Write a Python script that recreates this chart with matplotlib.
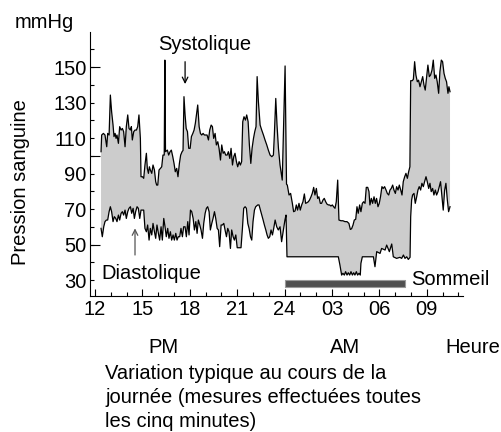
"""
Blood pressure over one day: systolic and diastolic readings every five
minutes, with the sleeping period marked under the curves.
"""

import matplotlib
matplotlib.use("Agg")
import matplotlib.pyplot as plt
from matplotlib.ticker import FixedLocator, MultipleLocator

# ── readings: (hour, mmHg); hours past 24 belong to the next morning ──
SYSTOLIC = [
    (12.38, 102.3), (12.42, 111.7), (12.53, 112.6), (12.63, 111.7), (12.74, 105.1),
    (12.80, 112.6), (12.89, 111.7), (12.97, 134.2), (13.05, 124.8), (13.14, 117.3),
    (13.20, 110.8), (13.27, 112.6), (13.33, 109.8), (13.39, 111.7), (13.48, 107.0),
    (13.56, 116.4), (13.65, 114.5), (13.73, 115.4), (13.81, 113.6), (13.90, 105.1),
    (13.98, 116.4), (14.07, 123.0), (14.15, 115.4), (14.24, 114.5), (14.30, 116.4),
    (14.36, 108.9), (14.45, 113.6), (14.53, 114.5), (14.62, 114.5), (14.70, 116.4),
    (14.78, 123.0), (14.87, 109.8), (14.91, 88.2), (15.00, 88.2), (15.08, 87.3),
    (15.16, 94.8), (15.25, 101.4), (15.31, 92.9), (15.38, 90.1), (15.44, 93.8),
    (15.50, 92.0), (15.59, 90.1), (15.67, 94.8), (15.76, 92.0), (15.84, 85.4),
    (15.90, 83.5), (15.97, 83.5), (16.05, 92.0), (16.14, 92.9), (16.22, 93.8),
    (16.30, 100.4), (16.38, 100.4), (16.42, 153.9), (16.46, 102.3), (16.58, 103.2),
    (16.66, 100.4), (16.75, 102.3), (16.83, 103.2), (16.92, 99.5), (17.00, 95.7),
    (17.08, 91.0), (17.17, 92.9), (17.25, 88.2), (17.34, 95.7), (17.42, 100.4),
    (17.51, 102.3), (17.57, 103.0), (17.63, 133.3), (17.70, 123.0), (17.77, 115.4),
    (17.85, 113.6), (17.93, 104.2), (18.02, 104.2), (18.10, 110.8), (18.19, 112.6),
    (18.27, 114.5), (18.35, 118.3), (18.50, 128.6), (18.59, 116.4), (18.67, 112.6),
    (18.75, 111.7), (18.84, 112.6), (18.92, 111.7), (19.00, 111.7), (19.09, 111.7),
    (19.18, 108.9), (19.26, 114.5), (19.35, 117.3), (19.43, 116.4), (19.51, 109.8),
    (19.60, 112.6), (19.68, 106.1), (19.77, 107.9), (19.85, 104.2), (19.94, 97.6),
    (20.02, 106.1), (20.11, 101.4), (20.19, 102.3), (20.27, 100.4), (20.36, 100.4),
    (20.44, 102.3), (20.53, 98.5), (20.61, 104.2), (20.70, 94.8), (20.78, 99.5),
    (20.86, 101.4), (20.95, 96.7), (21.03, 93.8), (21.12, 96.7), (21.20, 94.8),
    (21.28, 96.7), (21.35, 119.2), (21.43, 122.0), (21.52, 120.1), (21.60, 123.0),
    (21.69, 119.2), (21.77, 106.1), (21.86, 95.7), (21.94, 104.2), (22.03, 109.8),
    (22.11, 113.6), (22.19, 116.4), (22.26, 144.6), (22.34, 130.5), (22.45, 117.3),
    (22.55, 114.5), (22.66, 111.7), (22.76, 108.9), (22.87, 106.1), (22.97, 103.2),
    (23.08, 100.4), (23.19, 99.5), (23.29, 100.4), (23.35, 111.7), (23.44, 132.3),
    (23.52, 117.3), (23.61, 104.2), (23.71, 94.8), (23.85, 86.3), (24.03, 150.6),
    (24.12, 84.0), (24.17, 83.5), (24.28, 77.9), (24.38, 78.8), (24.49, 73.2),
    (24.57, 68.5), (24.66, 68.9), (24.74, 72.3), (24.82, 69.4), (24.91, 73.2),
    (24.99, 69.4), (25.08, 72.3), (25.16, 74.1), (25.25, 78.5), (25.33, 73.2),
    (25.42, 73.6), (25.50, 74.1), (25.58, 75.1), (25.67, 76.9), (25.75, 78.8),
    (25.84, 82.2), (25.92, 77.9), (26.01, 81.6), (26.09, 76.0), (26.17, 76.9),
    (26.26, 73.2), (26.34, 73.2), (26.43, 75.1), (26.51, 76.0), (26.60, 74.1),
    (26.68, 72.8), (26.77, 72.3), (26.85, 72.3), (26.93, 71.7), (27.02, 72.3),
    (27.10, 71.3), (27.19, 70.4), (27.27, 74.1), (27.36, 86.3), (27.44, 63.8),
    (27.57, 63.4), (27.69, 63.4), (27.82, 62.9), (27.95, 62.9), (28.07, 61.9),
    (28.16, 58.5), (28.24, 58.9), (28.33, 61.0), (28.41, 63.8), (28.50, 64.2),
    (28.58, 71.3), (28.66, 67.6), (28.75, 72.3), (28.83, 68.5), (28.92, 73.2),
    (29.00, 74.1), (29.09, 73.2), (29.17, 82.2), (29.26, 82.2), (29.34, 79.8),
    (29.40, 72.3), (29.49, 76.0), (29.57, 73.2), (29.66, 76.9), (29.74, 73.2),
    (29.82, 76.0), (29.91, 71.3), (29.99, 73.2), (30.07, 76.9), (30.16, 82.6),
    (30.24, 81.6), (30.33, 82.6), (30.42, 80.7), (30.50, 78.8), (30.59, 77.9),
    (30.67, 80.7), (30.75, 81.6), (30.84, 83.5), (30.92, 80.7), (31.01, 78.8),
    (31.09, 82.6), (31.18, 80.7), (31.26, 83.5), (31.35, 80.7), (31.43, 77.9),
    (31.51, 85.4), (31.60, 88.2), (31.68, 90.1), (31.77, 87.3), (31.85, 91.0),
    (31.93, 93.8), (31.98, 142.3), (32.08, 142.3), (32.15, 143.1), (32.23, 153.0),
    (32.31, 145.5), (32.40, 141.7), (32.48, 142.6), (32.57, 138.9), (32.65, 141.7),
    (32.74, 144.6), (32.82, 139.9), (32.90, 137.0), (32.99, 144.6), (33.07, 151.1),
    (33.16, 144.6), (33.24, 145.5), (33.33, 148.3), (33.41, 153.9), (33.50, 143.6),
    (33.58, 145.5), (33.66, 141.7), (33.75, 135.2), (33.83, 147.4), (33.92, 153.9),
    (34.00, 153.0), (34.09, 146.4), (34.17, 143.6), (34.25, 141.7), (34.34, 135.2),
    (34.40, 138.9), (34.47, 136.1),
]

DIASTOLIC = [
    (12.38, 59.1), (12.46, 54.4), (12.55, 60.0), (12.63, 62.9), (12.72, 63.8),
    (12.80, 63.8), (12.89, 68.5), (12.97, 71.3), (13.05, 68.5), (13.14, 62.9),
    (13.22, 65.7), (13.31, 64.7), (13.39, 62.9), (13.48, 66.6), (13.56, 63.8),
    (13.65, 67.6), (13.73, 68.5), (13.81, 66.6), (13.90, 69.4), (13.98, 64.7),
    (14.07, 68.5), (14.15, 70.4), (14.24, 71.3), (14.32, 67.6), (14.41, 70.4),
    (14.49, 64.7), (14.57, 68.5), (14.66, 71.3), (14.74, 70.4), (14.83, 64.7),
    (14.91, 69.4), (15.00, 69.4), (15.08, 69.4), (15.16, 59.1), (15.25, 57.2),
    (15.33, 61.0), (15.42, 52.5), (15.50, 59.1), (15.59, 55.4), (15.67, 61.9),
    (15.76, 57.2), (15.84, 53.5), (15.92, 61.0), (16.01, 56.3), (16.09, 52.5),
    (16.18, 60.0), (16.26, 52.5), (16.35, 64.7), (16.43, 60.0), (16.51, 54.4),
    (16.60, 59.1), (16.68, 53.5), (16.77, 57.2), (16.85, 52.5), (16.94, 55.4),
    (17.02, 52.5), (17.11, 56.3), (17.19, 52.5), (17.27, 54.4), (17.36, 54.4),
    (17.44, 59.1), (17.53, 54.4), (17.61, 60.0), (17.70, 60.0), (17.78, 54.4),
    (17.87, 62.9), (17.95, 55.4), (18.04, 69.4), (18.12, 68.5), (18.21, 64.7),
    (18.29, 58.2), (18.38, 62.9), (18.46, 56.3), (18.54, 63.8), (18.63, 61.0),
    (18.71, 58.2), (18.80, 53.5), (18.88, 61.9), (18.97, 67.6), (19.05, 70.4),
    (19.13, 71.3), (19.22, 68.5), (19.30, 58.2), (19.39, 61.9), (19.47, 64.7),
    (19.56, 68.5), (19.64, 64.7), (19.73, 59.1), (19.81, 58.2), (19.89, 48.8),
    (19.98, 61.0), (20.06, 61.0), (20.15, 61.9), (20.23, 58.2), (20.32, 54.4),
    (20.40, 59.1), (20.48, 57.2), (20.57, 47.8), (20.65, 58.2), (20.74, 54.4),
    (20.82, 52.5), (20.91, 55.4), (21.00, 48.2), (21.24, 48.2), (21.33, 59.1),
    (21.41, 70.4), (21.50, 71.3), (21.58, 70.4), (21.67, 61.9), (21.75, 59.1),
    (21.84, 54.4), (21.92, 52.5), (22.00, 62.9), (22.09, 69.4), (22.17, 71.3),
    (22.30, 72.3), (22.38, 72.3), (22.47, 69.4), (22.55, 66.6), (22.64, 63.8),
    (22.72, 61.0), (22.81, 58.2), (22.89, 55.4), (22.97, 53.5), (23.06, 54.4),
    (23.14, 58.2), (23.23, 55.4), (23.31, 59.1), (23.40, 63.8), (23.50, 60.0),
    (23.60, 58.2), (23.71, 60.0), (23.81, 51.6), (23.92, 58.2), (24.02, 63.8),
    (24.09, 66.6), (24.15, 43.1), (27.40, 43.1), (27.50, 38.5), (27.61, 32.8),
    (27.69, 33.8), (27.78, 32.8), (27.86, 34.7), (27.95, 32.8), (28.03, 34.1),
    (28.12, 32.8), (28.20, 34.7), (28.29, 32.8), (28.37, 34.1), (28.45, 32.8),
    (28.54, 34.7), (28.62, 32.8), (28.71, 33.8), (28.79, 32.8), (28.83, 39.4),
    (28.92, 43.1), (29.62, 43.1), (29.72, 37.5), (29.83, 46.0), (30.04, 45.0),
    (30.14, 47.8), (30.36, 46.9), (30.46, 49.7), (30.63, 46.0), (30.78, 50.3),
    (30.88, 43.1), (31.09, 42.2), (31.30, 42.8), (31.41, 42.2), (31.52, 44.1),
    (31.62, 42.2), (31.73, 43.1), (31.83, 41.6), (31.94, 42.8), (31.98, 65.7),
    (32.04, 75.1), (32.10, 77.9), (32.19, 78.8), (32.27, 73.2), (32.36, 76.9),
    (32.44, 80.7), (32.52, 82.6), (32.61, 80.7), (32.69, 84.5), (32.78, 82.6),
    (32.86, 85.4), (32.95, 88.2), (33.03, 85.4), (33.12, 81.6), (33.20, 84.5),
    (33.28, 79.8), (33.37, 81.6), (33.45, 77.9), (33.54, 80.7), (33.62, 77.9),
    (33.71, 79.8), (33.79, 82.6), (33.87, 85.4), (33.96, 76.9), (34.04, 69.4),
    (34.13, 80.7), (34.21, 84.5), (34.30, 75.1), (34.38, 68.5), (34.47, 71.3),
]

SLEEP_START = 24.03     # midnight
SLEEP_END   = 31.62     # about 07:35

X_TICKS       = [12, 15, 18, 21, 24, 27, 30, 33]
X_TICK_LABELS = ["12", "15", "18", "21", "24", "03", "06", "09"]
Y_TICKS       = [30, 50, 70, 90, 110, 130, 150]
Y_LONG_TICKS  = [50, 100, 150]

CAPTION = [
    "Variation typique au cours de la",
    "journée (mesures effectuées toutes",
    "les cinq minutes)",
]

# ── style ────────────────────────────────────────────────────────────
FONT_SIZE  = 14.5
FILL_COLOR = "#cccccc"
BAR_COLOR  = "#505050"

plt.rcParams["font.family"] = ["Liberation Sans", "DejaVu Sans"]
plt.rcParams["font.size"] = FONT_SIZE


def main():
    fig = plt.figure(figsize=(5.01, 4.32), dpi=100)
    ax = fig.add_axes([0.1796, 0.3148, 0.7445, 0.611])

    sys_t, sys_v = zip(*SYSTOLIC)
    dia_t, dia_v = zip(*DIASTOLIC)

    # band between the two pressures, then the two traces on top
    ax.fill(list(sys_t) + list(dia_t[::-1]), list(sys_v) + list(dia_v[::-1]),
            color=FILL_COLOR, lw=0, zorder=1)
    ax.plot(sys_t, sys_v, color="black", lw=0.9, zorder=2)
    ax.plot(dia_t, dia_v, color="black", lw=0.9, zorder=2)

    # sleeping period
    ax.broken_barh([(SLEEP_START, SLEEP_END - SLEEP_START)], (25.9, 4.1),
                   facecolors=BAR_COLOR, edgecolors="#9a9a9a", lw=0.8, zorder=3)

    ax.set_xlim(11.68, 35.29)
    ax.set_ylim(21.0, 169.7)

    ax.set_xticks(X_TICKS, X_TICK_LABELS)
    ax.xaxis.set_minor_locator(MultipleLocator(1))
    ax.set_yticks(Y_TICKS)
    ax.yaxis.set_minor_locator(FixedLocator(range(30, 170, 10)))

    ax.tick_params(axis="x", which="major", direction="in", length=5, width=0.8,
                   pad=3, labelsize=FONT_SIZE)
    ax.tick_params(axis="x", which="minor", direction="in", length=3, width=0.8)
    ax.tick_params(axis="y", which="both", direction="in", length=3, width=0.8,
                   pad=2.5, labelsize=FONT_SIZE)

    # longer ticks every 50 mmHg
    sec = ax.secondary_yaxis("left")
    sec.set_yticks(Y_LONG_TICKS)
    sec.tick_params(direction="in", length=7, width=0.8, labelleft=False)
    sec.spines["left"].set_visible(False)

    for side in ("top", "right"):
        ax.spines[side].set_visible(False)
    for side in ("left", "bottom"):
        ax.spines[side].set_linewidth(0.8)

    # annotations
    ax.text(15.99, 159.6, "Systolique", ha="left", va="baseline")
    ax.annotate("", xy=(17.70, 140.4), xytext=(17.70, 153.0),
                arrowprops=dict(arrowstyle="->", color="black", lw=0.9,
                                shrinkA=0, shrinkB=0, mutation_scale=10))
    ax.text(12.42, 30.4, "Diastolique", ha="left", va="baseline")
    ax.annotate("", xy=(14.53, 59.1), xytext=(14.53, 44.1),
                arrowprops=dict(arrowstyle="->", color="#555555", lw=0.9,
                                shrinkA=0, shrinkB=0, mutation_scale=10))
    ax.text(32.0, 27.2, "Sommeil", ha="left", va="baseline")

    fig.text(0.030, 0.947, "mmHg", ha="left", va="center")
    fig.text(0.040, 0.579, "Pression sanguine", rotation=90,
             ha="center", va="center")

    fig.text(0.3253, 0.1829, "PM", ha="center", va="baseline")
    fig.text(0.6886, 0.1829, "AM", ha="center", va="baseline")
    fig.text(0.888, 0.1829, "Heure", ha="left", va="baseline")

    for line, y in zip(CAPTION, (0.1227, 0.0671, 0.0116)):
        fig.text(0.2096, y, line, ha="left", va="baseline")

    fig.savefig("out.png", dpi=100)
    plt.close(fig)


if __name__ == "__main__":
    main()
